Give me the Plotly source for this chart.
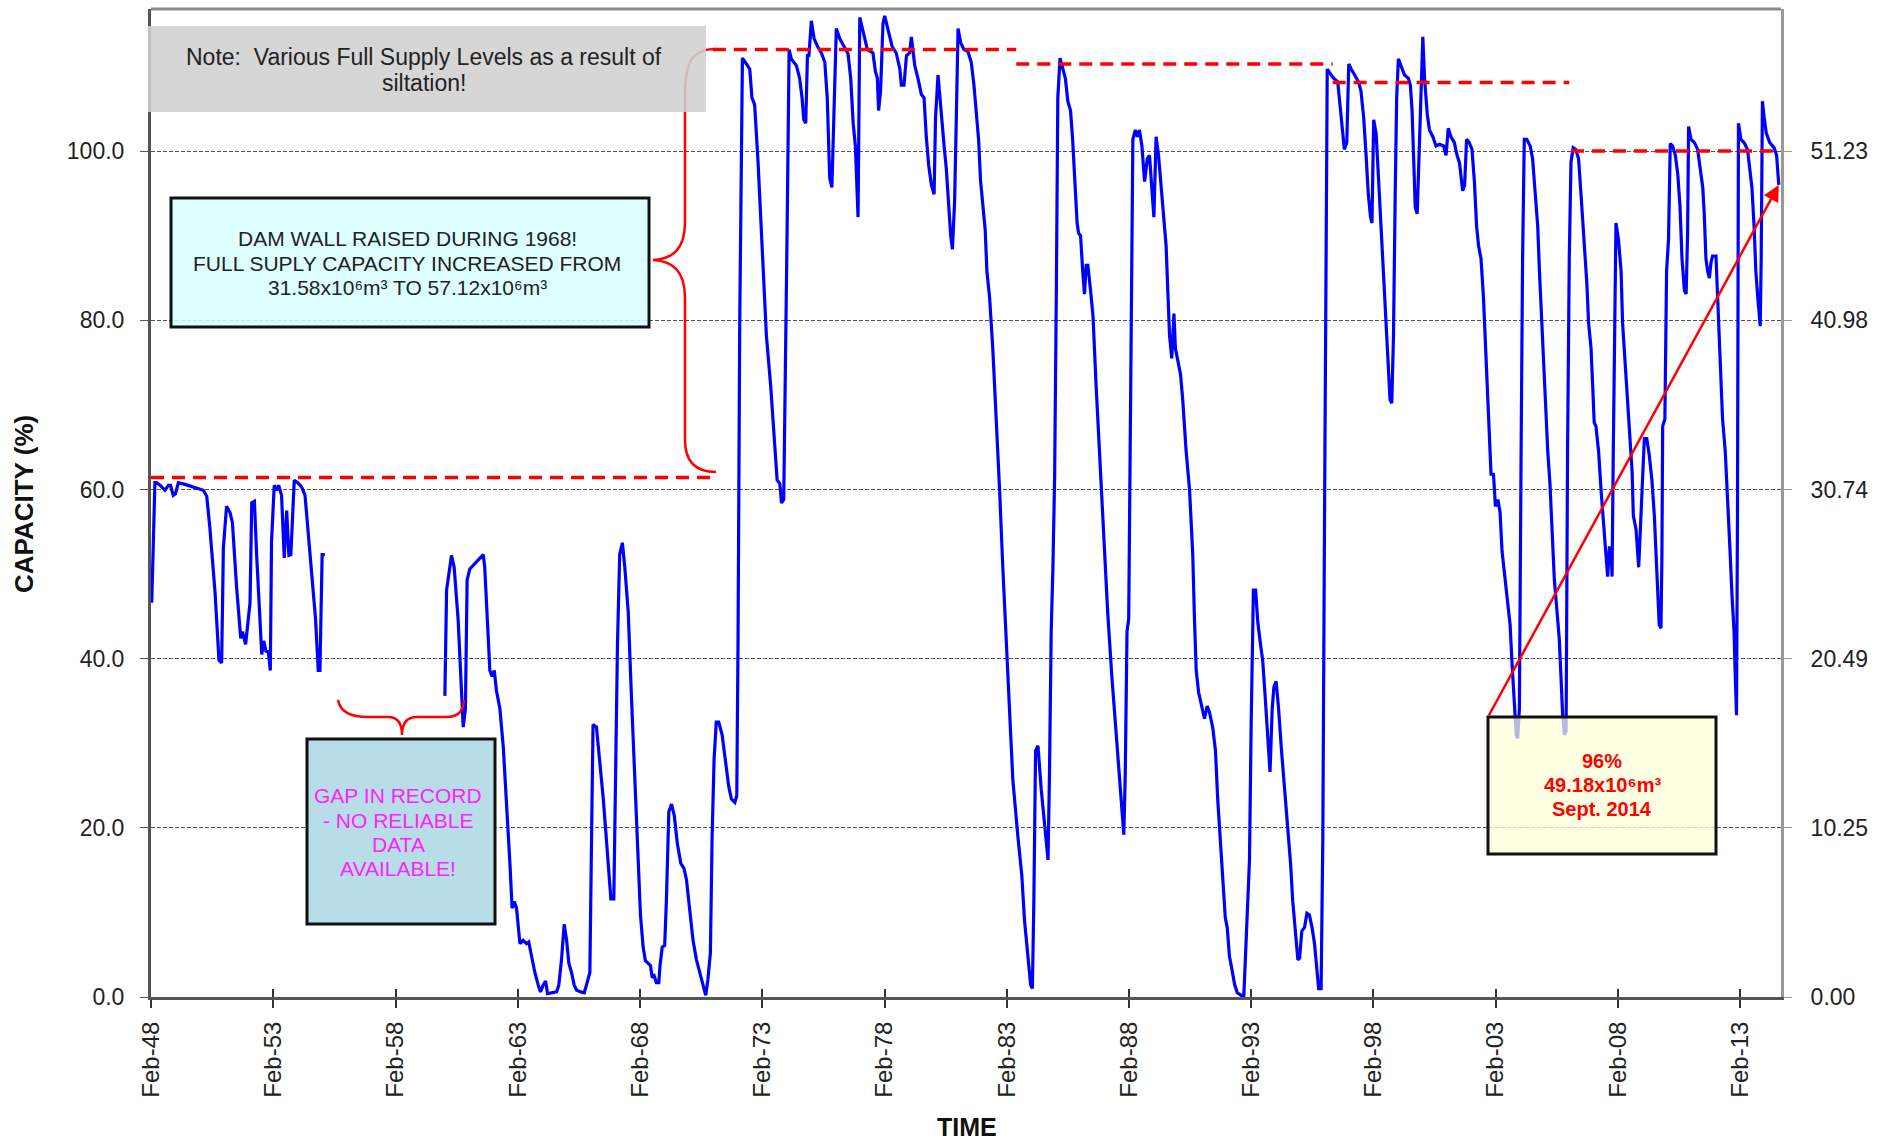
import pandas as pd
import plotly.graph_objects as go

# ---------------------------------------------------------------------------
# Dam storage record, Feb 1948 - Sept 2014 (percentage of full supply)
# elapsed_years: years since the start of the record (Feb 1948)
# ---------------------------------------------------------------------------
RECORD_START = pd.Timestamp("1948-02-01")
FULL_SUPPLY_VOLUME = 51.23  # x10^6 m3 at 100 %

elapsed_years = [
    0.03, 0.16, 0.23, 0.37, 0.57, 0.71, 0.80, 0.91, 1.00, 1.12, 1.39, 1.80, 2.14, 2.28,
    2.41, 2.62, 2.78, 2.89, 2.96, 3.09, 3.23, 3.33, 3.50, 3.67, 3.74, 3.87, 4.05, 4.12,
    4.23, 4.32, 4.46, 4.53, 4.61, 4.70, 4.80, 4.88, 4.93, 5.04, 5.14, 5.22, 5.34, 5.45,
    5.55, 5.64, 5.72, 5.86, 6.00, 6.16, 6.30, 6.43, 6.57, 6.73, 6.84, 6.91, 7.00, 7.11,
    9.50,
    12.02, 12.09, 12.29, 12.40, 12.56, 12.67, 12.77, 12.86, 12.93, 13.04, 13.38, 13.59,
    13.65, 13.76, 13.86, 13.95, 14.04, 14.13, 14.27, 14.41, 14.54, 14.68, 14.77, 14.86,
    14.95, 15.09, 15.22, 15.36, 15.45, 15.59, 15.70, 15.84, 15.93, 16.04, 16.14, 16.22,
    16.38, 16.59, 16.68, 16.79, 16.90, 17.00, 17.09, 17.20, 17.31, 17.41, 17.58, 17.72,
    17.81, 17.95, 18.02, 18.08, 18.22, 18.36, 18.50, 18.60, 18.70, 18.81, 18.93, 19.00,
    19.08, 19.17, 19.28, 19.38, 19.52, 19.65, 19.79, 19.92, 20.02, 20.13, 20.22, 20.33,
    20.43, 20.50, 20.58, 20.67, 20.77, 20.82, 20.91, 21.01, 21.08, 21.18, 21.29, 21.40,
    21.53, 21.67, 21.80, 21.90, 22.04, 22.17, 22.31, 22.44, 22.58, 22.69, 22.78, 22.88,
    22.95, 23.03, 23.12, 23.22, 23.36, 23.50, 23.63, 23.74, 23.88, 23.96, 24.01, 24.08,
    24.15, 24.19, 24.31, 24.49, 24.58, 24.69, 24.83, 24.99, 25.17, 25.35, 25.51, 25.61,
    25.72, 25.79, 25.88, 25.95, 26.02, 26.10, 26.19, 26.40, 26.53, 26.63, 26.70, 26.78,
    26.85, 26.91, 27.01, 27.12, 27.26, 27.42, 27.56, 27.66, 27.76, 27.85, 27.94, 28.03,
    28.17, 28.35, 28.51, 28.62, 28.72, 28.81, 28.92, 28.99, 29.12, 29.30, 29.53, 29.63,
    29.71, 29.76, 29.84, 29.94, 30.01, 30.14, 30.31, 30.48, 30.63, 30.69, 30.80, 30.90,
    31.03, 31.10, 31.24, 31.37, 31.51, 31.62, 31.71, 31.81, 31.92, 32.03, 32.09, 32.19,
    32.30, 32.44, 32.53, 32.63, 32.71, 32.78, 32.87, 32.94, 33.01, 33.12, 33.25, 33.41,
    33.55, 33.66, 33.76, 33.85, 33.93, 34.03, 34.12, 34.19, 34.30, 34.43, 34.57, 34.71,
    34.84, 34.98, 35.08, 35.25, 35.46, 35.62, 35.73, 35.87, 35.98, 36.05, 36.11, 36.18,
    36.28, 36.41, 36.55, 36.69, 36.75, 36.82, 36.89, 36.96, 37.03, 37.09, 37.18, 37.30,
    37.40, 37.50, 37.61, 37.69, 37.80, 37.88, 37.94, 38.02, 38.11, 38.18, 38.25, 38.32,
    38.43, 38.53, 38.66, 38.84, 39.00, 39.13, 39.30, 39.48, 39.64, 39.75, 39.79, 39.85,
    39.92, 39.99, 40.03, 40.10, 40.16, 40.26, 40.34, 40.43, 40.53, 40.64, 40.75, 40.84,
    40.94, 41.02, 41.11, 41.21, 41.32, 41.43, 41.52, 41.59, 41.66, 41.75, 41.84, 41.90,
    42.00, 42.11, 42.20, 42.34, 42.48, 42.61, 42.68, 42.75, 42.85, 42.95, 43.09, 43.20,
    43.29, 43.43, 43.54, 43.63, 43.74, 43.84, 43.94, 44.02, 44.11, 44.21, 44.32, 44.43,
    44.59, 44.70, 44.79, 44.93, 45.00, 45.09, 45.18, 45.27, 45.38, 45.47, 45.57, 45.68,
    45.77, 45.86, 45.93, 46.02, 46.12, 46.23, 46.36, 46.50, 46.61, 46.70, 46.80, 46.91,
    46.98, 47.07, 47.18, 47.28, 47.38, 47.49, 47.59, 47.68, 47.76, 47.86, 47.93, 48.00,
    48.06, 48.11, 48.27, 48.38, 48.54, 48.65, 48.74, 48.81, 48.91, 48.99, 49.09, 49.22,
    49.39, 49.49, 49.60, 49.70, 49.79, 49.88, 49.94, 50.01, 50.11, 50.20, 50.31, 50.42,
    50.52, 50.61, 50.68, 50.75, 50.82, 50.89, 50.95, 51.02, 51.13, 51.27, 51.43, 51.51,
    51.58, 51.65, 51.71, 51.79, 51.88, 51.95, 52.02, 52.09, 52.20, 52.29, 52.43, 52.56,
    52.70, 52.87, 52.97, 53.06, 53.17, 53.31, 53.42, 53.52, 53.65, 53.73, 53.81, 53.92,
    54.03, 54.13, 54.22, 54.30, 54.40, 54.50, 54.61, 54.72, 54.81, 54.91, 54.99, 55.09,
    55.18, 55.26, 55.36, 55.50, 55.59, 55.67, 55.77, 55.84, 55.90, 55.97, 56.04, 56.10,
    56.17, 56.27, 56.41, 56.51, 56.62, 56.72, 56.79, 56.90, 57.03, 57.13, 57.22, 57.30,
    57.40, 57.49, 57.60, 57.67, 57.74, 57.81, 57.88, 57.94, 58.01, 58.08, 58.17, 58.28,
    58.39, 58.49, 58.58, 58.66, 58.73, 58.80, 58.90, 58.97, 59.03, 59.10, 59.21, 59.31,
    59.40, 59.51, 59.58, 59.65, 59.72, 59.76, 59.81, 59.88, 59.92, 60.02, 60.13, 60.19,
    60.33, 60.47, 60.58, 60.63, 60.74, 60.85, 60.94, 61.01, 61.08, 61.18, 61.28, 61.39,
    61.49, 61.56, 61.65, 61.69, 61.76, 61.80, 61.83, 61.92, 61.99, 62.07, 62.14, 62.24,
    62.35, 62.45, 62.54, 62.62, 62.72, 62.79, 62.85, 62.89, 62.99, 63.13, 63.26, 63.36,
    63.47, 63.53, 63.60, 63.67, 63.74, 63.81, 63.87, 64.01, 64.08, 64.17, 64.28, 64.39,
    64.49, 64.58, 64.66, 64.75, 64.80, 64.85, 64.89, 64.93, 65.03, 65.16, 65.30, 65.40,
    65.48, 65.57, 65.64, 65.72, 65.78, 65.82, 65.86, 65.91, 65.98, 66.07, 66.21, 66.39,
    66.49, 66.58,
]

capacity_pct = [
    46.6, 60.8, 60.8, 60.5, 59.9, 60.5, 60.5, 59.3, 59.5, 60.8, 60.6, 60.2, 59.9, 59.2,
    55.4, 47.8, 39.8, 39.5, 53.1, 58.0, 57.3, 56.1, 48.5, 42.4, 43.2, 41.7, 46.6, 58.4,
    58.6, 52.3, 44.7, 40.5, 42.1, 40.9, 40.8, 38.6, 53.8, 60.5, 59.9, 60.5, 59.3, 51.9,
    57.5, 52.2, 52.3, 61.1, 60.8, 60.3, 59.3, 55.0, 49.3, 44.7, 38.6, 38.6, 52.3, 52.3,
    None,
    35.6, 48.1, 52.2, 50.8, 44.7, 37.1, 31.9, 34.1, 49.3, 50.6, 51.6, 52.3,
    50.8, 44.7, 38.6, 37.9, 38.6, 36.2, 34.1, 29.5, 23.4, 15.8, 10.5, 11.3,
    10.5, 6.3, 6.7, 6.3, 6.5, 4.4, 2.9, 1.4, 0.6, 1.4, 1.9, 0.4,
    0.5, 0.6, 1.4, 4.4, 8.6, 6.7, 4.0, 2.9, 1.4, 0.8, 0.6, 0.5,
    1.4, 2.9, 18.9, 32.2, 31.9, 28.0, 23.4, 19.6, 15.1, 11.6, 11.6, 26.5,
    41.7, 52.3, 53.7, 50.8, 45.5, 35.6, 26.5, 17.3, 9.7, 5.9, 4.3, 4.0,
    3.7, 2.3, 2.5, 1.7, 1.7, 3.7, 5.9, 6.1, 11.3, 21.9, 22.8, 21.5,
    18.1, 15.8, 15.2, 13.9, 10.5, 6.7, 4.4, 3.0, 1.5, 0.2, 2.1, 5.2,
    18.9, 28.0, 32.5, 32.5, 31.0, 27.6, 24.9, 23.4, 23.0, 23.8, 41.7, 79.7,
    102.5, 111.0, 110.5, 109.7, 106.3, 105.5, 98.7, 88.8, 78.2, 72.1, 65.2, 61.1,
    60.7, 58.4, 58.8, 72.1, 91.1, 112.0, 110.9, 110.1, 108.6, 106.3, 103.7, 103.3,
    111.3, 111.3, 115.4, 113.3, 112.4, 111.6, 110.5, 106.3, 96.8, 95.7, 105.5, 114.5,
    113.3, 112.4, 111.5, 108.6, 103.3, 100.6, 92.2, 115.8, 114.3, 112.0, 111.6, 109.4,
    108.6, 104.8, 107.1, 115.1, 116.0, 114.3, 112.4, 111.6, 109.7, 107.8, 107.8, 111.3,
    111.6, 113.5, 110.1, 108.6, 106.7, 106.3, 101.7, 98.3, 96.0, 94.9, 104.0, 109.0,
    104.8, 100.6, 97.9, 93.4, 90.0, 88.4, 94.1, 104.0, 114.5, 112.8, 112.0, 111.8,
    110.5, 107.8, 104.0, 101.4, 96.5, 93.4, 90.7, 85.8, 82.7, 76.7, 69.0, 59.9,
    50.8, 41.7, 34.8, 25.7, 18.9, 14.3, 9.0, 4.4, 1.4, 1.0, 11.3, 29.1,
    29.7, 24.6, 20.4, 16.2, 26.5, 43.2, 50.8, 61.4, 83.5, 106.3, 111.0, 109.7,
    108.6, 105.9, 104.8, 101.7, 94.9, 91.5, 90.3, 90.0, 85.8, 83.1, 86.5, 86.5,
    83.5, 80.5, 72.1, 61.4, 53.1, 45.5, 37.9, 31.0, 24.9, 19.6, 19.2, 26.5,
    43.2, 44.7, 60.7, 87.3, 101.4, 102.5, 101.7, 102.5, 100.6, 96.4, 99.1, 99.5,
    94.9, 92.2, 101.7, 99.5, 95.7, 91.9, 88.8, 83.5, 78.2, 75.5, 80.8, 76.7,
    75.1, 73.6, 70.6, 64.5, 59.9, 52.3, 44.7, 38.6, 36.0, 34.8, 32.9, 34.4,
    33.7, 31.8, 29.1, 23.4, 18.1, 13.5, 9.4, 8.2, 4.8, 3.3, 1.5, 0.5,
    0.2, 0.2, 7.5, 16.2, 32.5, 48.1, 48.1, 44.3, 41.7, 39.8, 35.6, 30.3,
    26.6, 34.1, 36.7, 37.3, 34.1, 29.5, 24.9, 20.4, 15.8, 11.3, 7.5, 4.4,
    4.6, 7.8, 8.2, 9.9, 9.7, 8.2, 6.3, 2.9, 1.0, 1.0, 18.9, 56.9,
    94.9, 109.7, 109.0, 108.6, 108.2, 105.2, 102.5, 100.2, 101.0, 110.3, 109.7, 109.0,
    108.2, 107.1, 104.0, 99.5, 94.9, 92.2, 91.5, 103.7, 102.1, 97.2, 91.1, 85.0,
    79.7, 75.1, 70.6, 70.2, 78.2, 94.9, 106.3, 110.9, 110.1, 109.0, 108.6, 107.8,
    104.8, 98.7, 93.4, 92.6, 101.0, 107.8, 113.5, 108.6, 104.4, 102.5, 101.7, 100.6,
    100.8, 100.6, 99.5, 102.7, 101.7, 101.0, 99.5, 98.6, 95.3, 96.0, 101.4, 101.0,
    100.2, 96.4, 91.1, 88.8, 87.3, 82.7, 75.1, 69.0, 61.8, 61.8, 58.0, 58.8,
    57.3, 52.7, 50.0, 47.0, 44.0, 39.4, 35.2, 31.0, 30.6, 34.1, 64.5, 87.3,
    101.4, 101.4, 100.6, 99.1, 94.9, 91.1, 85.8, 78.2, 70.6, 64.5, 60.7, 54.6,
    49.3, 46.2, 42.4, 37.9, 33.3, 31.0, 31.4, 64.5, 87.3, 98.7, 100.4, 100.2,
    99.1, 94.9, 91.1, 87.3, 84.3, 79.7, 76.7, 72.1, 67.9, 67.5, 64.5, 59.9,
    56.9, 52.3, 49.7, 53.1, 53.1, 49.7, 64.5, 79.7, 91.5, 89.6, 85.8, 79.7,
    73.6, 68.3, 62.1, 56.9, 55.3, 50.8, 56.9, 62.1, 66.0, 66.0, 64.1, 61.1,
    56.9, 52.3, 44.7, 44.0, 43.6, 52.3, 67.5, 68.3, 85.8, 89.6, 100.9, 100.6,
    99.5, 97.2, 93.4, 87.3, 83.5, 83.1, 90.3, 102.9, 101.4, 101.0, 100.2, 98.3,
    95.7, 92.6, 87.3, 85.8, 85.0, 86.9, 87.6, 87.6, 82.7, 75.9, 68.3, 64.5,
    59.3, 53.1, 47.8, 43.2, 37.9, 33.3, 56.9, 103.3, 101.4, 101.0, 100.2, 97.9,
    95.7, 91.1, 85.8, 82.7, 80.8, 79.3, 87.3, 105.9, 104.0, 102.1, 101.0, 100.4,
    99.5, 96.0,
]

# Full supply levels (% of current full supply) that changed with siltation
fsl_from_years = [0.00, 22.98, 35.39, 48.33, 58.08]
fsl_to_years = [22.98, 35.39, 48.33, 58.01, 66.67]
fsl_level_pct = [61.4, 112.0, 110.3, 108.1, 100.0]

tick_years = list(range(1948, 2014, 5))
tick_labels = ["Feb-" + str(y)[2:] for y in tick_years]
left_tick_pct = [0, 20, 40, 60, 80, 100]

X_END_YEARS = 66.67
Y_TOP = 116.8

# ---------------------------------------------------------------------------
def to_date(t):
    return RECORD_START + pd.to_timedelta(t * 365.25, unit="D")


dates = [to_date(t) for t in elapsed_years]
volume = [None if v is None else v * FULL_SUPPLY_VOLUME / 100 for v in capacity_pct]
x_end = to_date(X_END_YEARS)
tick_dates = [pd.Timestamp(y, 2, 1) for y in tick_years]

# plot area in page pixels (used to place boxes, braces and titles)
PL, PR, PT, PB = 151, 1781, 9, 997


def px(x):
    return (x - PL) / (PR - PL)


def py(y):
    return (PB - y) / (PB - PT)


FONT = "Liberation Sans, Arial, sans-serif"

fig = go.Figure()

fig.add_trace(go.Scatter(
    x=dates, y=capacity_pct, mode="lines",
    line=dict(color="#0000ff", width=3.2), connectgaps=False,
    showlegend=False, hoverinfo="x+y",
))

# volume scale on the right-hand axis (invisible, drives the axis)
fig.add_trace(go.Scatter(
    x=dates, y=volume, yaxis="y2", mode="lines",
    line=dict(color="rgba(0,0,0,0)", width=1), showlegend=False, hoverinfo="skip",
))
# companion axis used for the inward half of the crossing x ticks
fig.add_trace(go.Scatter(
    x=dates, y=capacity_pct, xaxis="x2", mode="lines",
    line=dict(color="rgba(0,0,0,0)", width=1), showlegend=False, hoverinfo="skip",
))

for t0, t1, lev in zip(fsl_from_years, fsl_to_years, fsl_level_pct):
    fig.add_trace(go.Scatter(
        x=[to_date(t0), to_date(t1)], y=[lev, lev], mode="lines",
        line=dict(color="#ff0000", width=3.5, dash="13px,8px"),
        showlegend=False, hoverinfo="skip",
    ))

shapes = []
# brace linking the two full supply levels around the 1968 wall raising
path = (
    f"M {px(715)},{py(49)} C {px(693)},{py(49)} {px(685)},{py(62)} {px(685)},{py(92)} "
    f"L {px(685)},{py(222)} C {px(685)},{py(250)} {px(672)},{py(259)} {px(653)},{py(260)} "
    f"C {px(672)},{py(261)} {px(685)},{py(270)} {px(685)},{py(298)} "
    f"L {px(685)},{py(440)} C {px(685)},{py(462)} {px(696)},{py(472)} {px(716)},{py(472)}"
)
shapes.append(dict(type="path", xref="paper", yref="paper", path=path,
                   line=dict(color="#ff0000", width=2.5), layer="above"))
# brace over the gap in the record
path2 = (
    f"M {px(338)},{py(700)} C {px(340)},{py(712)} {px(350)},{py(717)} {px(368)},{py(717)} "
    f"L {px(388)},{py(717)} C {px(398)},{py(717)} {px(402)},{py(724)} {px(402)},{py(735)} "
    f"C {px(402)},{py(724)} {px(406)},{py(717)} {px(417)},{py(717)} "
    f"L {px(446)},{py(717)} C {px(458)},{py(717)} {px(463)},{py(712)} {px(464)},{py(700)}"
)
shapes.append(dict(type="path", xref="paper", yref="paper", path=path2,
                   line=dict(color="#ff0000", width=2.5), layer="above"))

# note box (grey, slightly translucent)
shapes.append(dict(type="rect", xref="paper", yref="paper",
                   x0=px(148), x1=px(706), y0=py(112), y1=py(26),
                   fillcolor="rgba(208,208,208,0.88)", line=dict(width=0), layer="above"))
# dam wall box
shapes.append(dict(type="rect", xref="paper", yref="paper",
                   x0=px(171), x1=px(649), y0=py(327), y1=py(198),
                   fillcolor="rgba(216,255,255,0.88)", line=dict(color="#111", width=3),
                   layer="above"))
# gap-in-record box
shapes.append(dict(type="rect", xref="paper", yref="paper",
                   x0=px(307), x1=px(495), y0=py(924), y1=py(739),
                   fillcolor="#b7dde8", line=dict(color="#111", width=3), layer="above"))
# latest level box
shapes.append(dict(type="rect", xref="paper", yref="paper",
                   x0=px(1488), x1=px(1716), y0=py(854), y1=py(717),
                   fillcolor="rgba(255,255,218,0.72)", line=dict(color="#111", width=3),
                   layer="above"))
# top frame
shapes.append(dict(type="line", xref="paper", yref="paper", x0=0, x1=1, y0=1, y1=1,
                   line=dict(color="#8c8c8c", width=3), layer="above"))

annotations = []


def text_lines(lines, cx, ys, size, color, bold=False):
    for s, y in zip(lines, ys):
        annotations.append(dict(
            xref="paper", yref="paper", x=px(cx), y=py(y), text=f"<b>{s}</b>" if bold else s,
            showarrow=False, xanchor="center", yanchor="middle",
            font=dict(family=FONT, size=size, color=color),
        ))


text_lines(["Note:\u00a0 Various Full Supply Levels as a result of", "siltation!"],
           424, [57, 83], 23, "#222")
text_lines(["DAM WALL RAISED DURING 1968!",
            "FULL SUPLY CAPACITY INCREASED FROM",
            "31.58x10\u2076m\u00b3 TO 57.12x10\u2076m\u00b3"],
           407, [238, 263, 287], 21, "#222")
text_lines(["GAP IN RECORD", "- NO RELIABLE", "DATA", "AVAILABLE!"],
           398, [796, 820, 844, 868], 21, "#ff22ff")

last_t = elapsed_years[-1]
last_v = capacity_pct[-1]
text_lines([f"{last_v:.0f}%",
            f"{last_v * FULL_SUPPLY_VOLUME / 100:.2f}x10\u2076m\u00b3",
            "Sept. " + str(to_date(last_t).year)],
           1602, [761, 785, 809], 20, "#ff0000", bold=True)

# arrow from the box corner to the latest reading
head_x = PL + last_t / X_END_YEARS * (PR - PL)
head_y = PB - last_v / Y_TOP * (PB - PT)
annotations.append(dict(
    x=to_date(last_t), y=last_v, xref="x", yref="y", text="",
    showarrow=True, ax=1488 - head_x, ay=717 - head_y,
    arrowhead=2, arrowsize=1.3, arrowwidth=2.5, arrowcolor="#ff0000", standoff=0,
))

# axis titles
annotations.append(dict(xref="paper", yref="paper", x=px(24), y=py(504), text="<b>CAPACITY (%)</b>",
                        textangle=-90, showarrow=False, xanchor="center", yanchor="middle",
                        font=dict(family=FONT, size=26, color="#111")))
annotations.append(dict(xref="paper", yref="paper", x=px(967), y=py(1127), text="<b>TIME</b>",
                        showarrow=False, xanchor="center", yanchor="middle",
                        font=dict(family=FONT, size=25, color="#111")))

fig.update_layout(
    width=1879, height=1144,
    margin=dict(l=PL, r=1879 - PR, t=PT, b=1144 - PB),
    plot_bgcolor="white", paper_bgcolor="white",
    showlegend=False,
    font=dict(family=FONT, color="#222"),
    shapes=shapes, annotations=annotations,
    xaxis=dict(
        type="date", range=[RECORD_START, x_end],
        tickvals=tick_dates, ticktext=tick_labels, tickangle=-90,
        ticks="outside", ticklen=8, tickwidth=1.5, tickcolor="#333",
        showline=True, linecolor="#555", linewidth=3,
        showgrid=False, zeroline=False,
        tickfont=dict(family=FONT, size=24, color="#222"),
        ticklabelstandoff=4,
    ),
    xaxis2=dict(
        type="date", range=[RECORD_START, x_end], overlaying="x", anchor="y", side="bottom",
        tickvals=tick_dates, ticks="inside", ticklen=8, tickwidth=1.5, tickcolor="#333",
        showticklabels=False, showline=False, showgrid=False, zeroline=False,
    ),
    yaxis=dict(
        range=[0, Y_TOP], tickvals=left_tick_pct, tickformat=".1f",
        ticks="outside", ticklen=8, tickcolor="#555",
        showgrid=True, gridcolor="#555", gridwidth=1, griddash="4px,2px",
        showline=True, linecolor="#555", linewidth=3, zeroline=False,
        tickfont=dict(family=FONT, size=23, color="#222"),
        ticklabelstandoff=11,
    ),
    yaxis2=dict(
        overlaying="y", side="right", anchor="x",
        range=[0, Y_TOP * FULL_SUPPLY_VOLUME / 100],
        tickvals=[p * FULL_SUPPLY_VOLUME / 100 for p in left_tick_pct], tickformat=".2f",
        ticks="outside", ticklen=8, tickcolor="#999",
        showline=True, linecolor="#999", linewidth=3, showgrid=False, zeroline=False,
        tickfont=dict(family=FONT, size=23, color="#222"),
        ticklabelstandoff=14,
    ),
)

fig.write_html("out.html")
